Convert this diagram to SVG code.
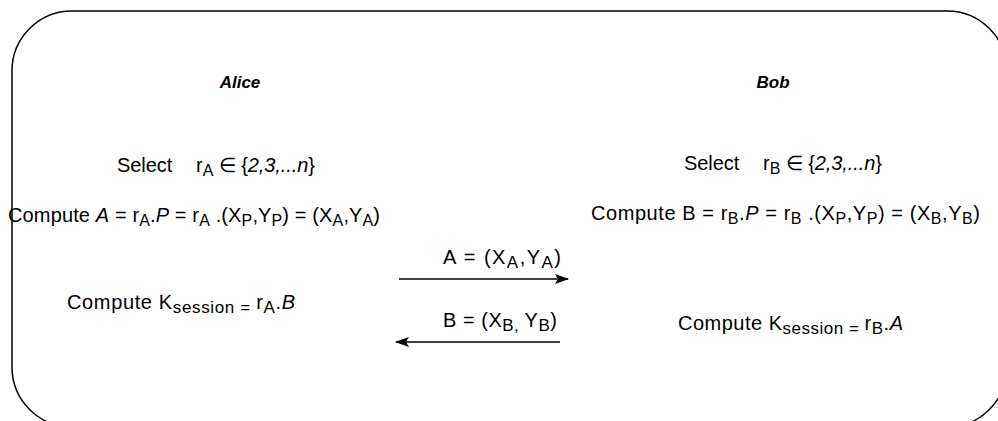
<svg xmlns="http://www.w3.org/2000/svg" width="998" height="421" viewBox="0 0 998 421">
<style>
text{font-family:"Liberation Sans",Arial,sans-serif;font-size:20px;fill:#000}
.name{font-weight:bold;font-style:italic;font-size:17px}
.it{font-style:italic}
.sub{font-size:16px}
.sub2{font-size:17px}
.conn{stroke:#000;stroke-width:1.5;fill:none}
</style>
<defs>
<marker id="ah" viewBox="0 0 14 10" refX="13" refY="5" markerWidth="14" markerHeight="10" markerUnits="userSpaceOnUse" orient="auto">
<path d="M0,0 L14,5 L0,10 L3,5 Z" fill="#000"/>
</marker>
</defs>
<rect x="12" y="11" width="995" height="416" rx="60" ry="60" fill="#fff" stroke="#000" stroke-width="1.5"/>
<g id="alice">
<text class="name" x="240" y="88" text-anchor="middle">Alice</text>
<text x="117" y="172" textLength="198" lengthAdjust="spacing">Select<tspan dx="24">r</tspan><tspan class="sub" dy="4">A</tspan><tspan dy="-4"> ∈ {</tspan><tspan class="it">2,3,...n</tspan>}</text>
<text x="8" y="222" textLength="372" lengthAdjust="spacing">Compute <tspan class="it">A</tspan> = r<tspan class="sub" dy="4">A</tspan><tspan dy="-4">.</tspan><tspan class="it">P</tspan> = r<tspan class="sub" dy="4">A</tspan><tspan dy="-4"> .(X</tspan><tspan class="sub" dy="4">P</tspan><tspan dy="-4">,Y</tspan><tspan class="sub" dy="4">P</tspan><tspan dy="-4">) = (X</tspan><tspan class="sub" dy="4">A</tspan><tspan dy="-4">,Y</tspan><tspan class="sub" dy="4">A</tspan><tspan dy="-4">)</tspan></text>
<text x="67" y="309" textLength="228" lengthAdjust="spacing">Compute K<tspan class="sub2" dy="4">session = </tspan><tspan dy="-4">r</tspan><tspan class="sub2" dy="4">A</tspan><tspan dy="-4">.</tspan><tspan class="it">B</tspan></text>
</g>
<g id="bob">
<text class="name" x="773" y="88" text-anchor="middle">Bob</text>
<text x="684" y="170" textLength="198" lengthAdjust="spacing">Select<tspan dx="24">r</tspan><tspan class="sub" dy="4">B</tspan><tspan dy="-4"> ∈ {</tspan><tspan class="it">2,3,...n</tspan>}</text>
<text x="591" y="220" textLength="389" lengthAdjust="spacing">Compute B = r<tspan class="sub" dy="4">B</tspan><tspan dy="-4">.</tspan><tspan class="it">P</tspan> = r<tspan class="sub" dy="4">B</tspan><tspan dy="-4"> .(X</tspan><tspan class="sub" dy="4">P</tspan><tspan dy="-4">,Y</tspan><tspan class="sub" dy="4">P</tspan><tspan dy="-4">) = (X</tspan><tspan class="sub" dy="4">B</tspan><tspan dy="-4">,Y</tspan><tspan class="sub" dy="4">B</tspan><tspan dy="-4">)</tspan></text>
<text x="678" y="330" textLength="225" lengthAdjust="spacing">Compute K<tspan class="sub2" dy="4">session = </tspan><tspan dy="-4">r</tspan><tspan class="sub2" dy="4">B</tspan><tspan dy="-4">.</tspan><tspan class="it">A</tspan></text>
</g>
<g id="connectors">
<line class="conn" x1="399" y1="279" x2="568" y2="279" marker-end="url(#ah)"/>
<text x="443" y="264" textLength="118" lengthAdjust="spacing">A = (X<tspan class="sub2" dy="4">A</tspan><tspan dy="-4">,Y</tspan><tspan class="sub2" dy="4">A</tspan><tspan dy="-4">)</tspan></text>
<line class="conn" x1="560" y1="342" x2="396" y2="342" marker-end="url(#ah)"/>
<text x="443" y="327" textLength="114" lengthAdjust="spacing">B = (X<tspan class="sub2" dy="4">B, </tspan><tspan dy="-4">Y</tspan><tspan class="sub2" dy="4">B</tspan><tspan dy="-4">)</tspan></text>
</g>
</svg>
